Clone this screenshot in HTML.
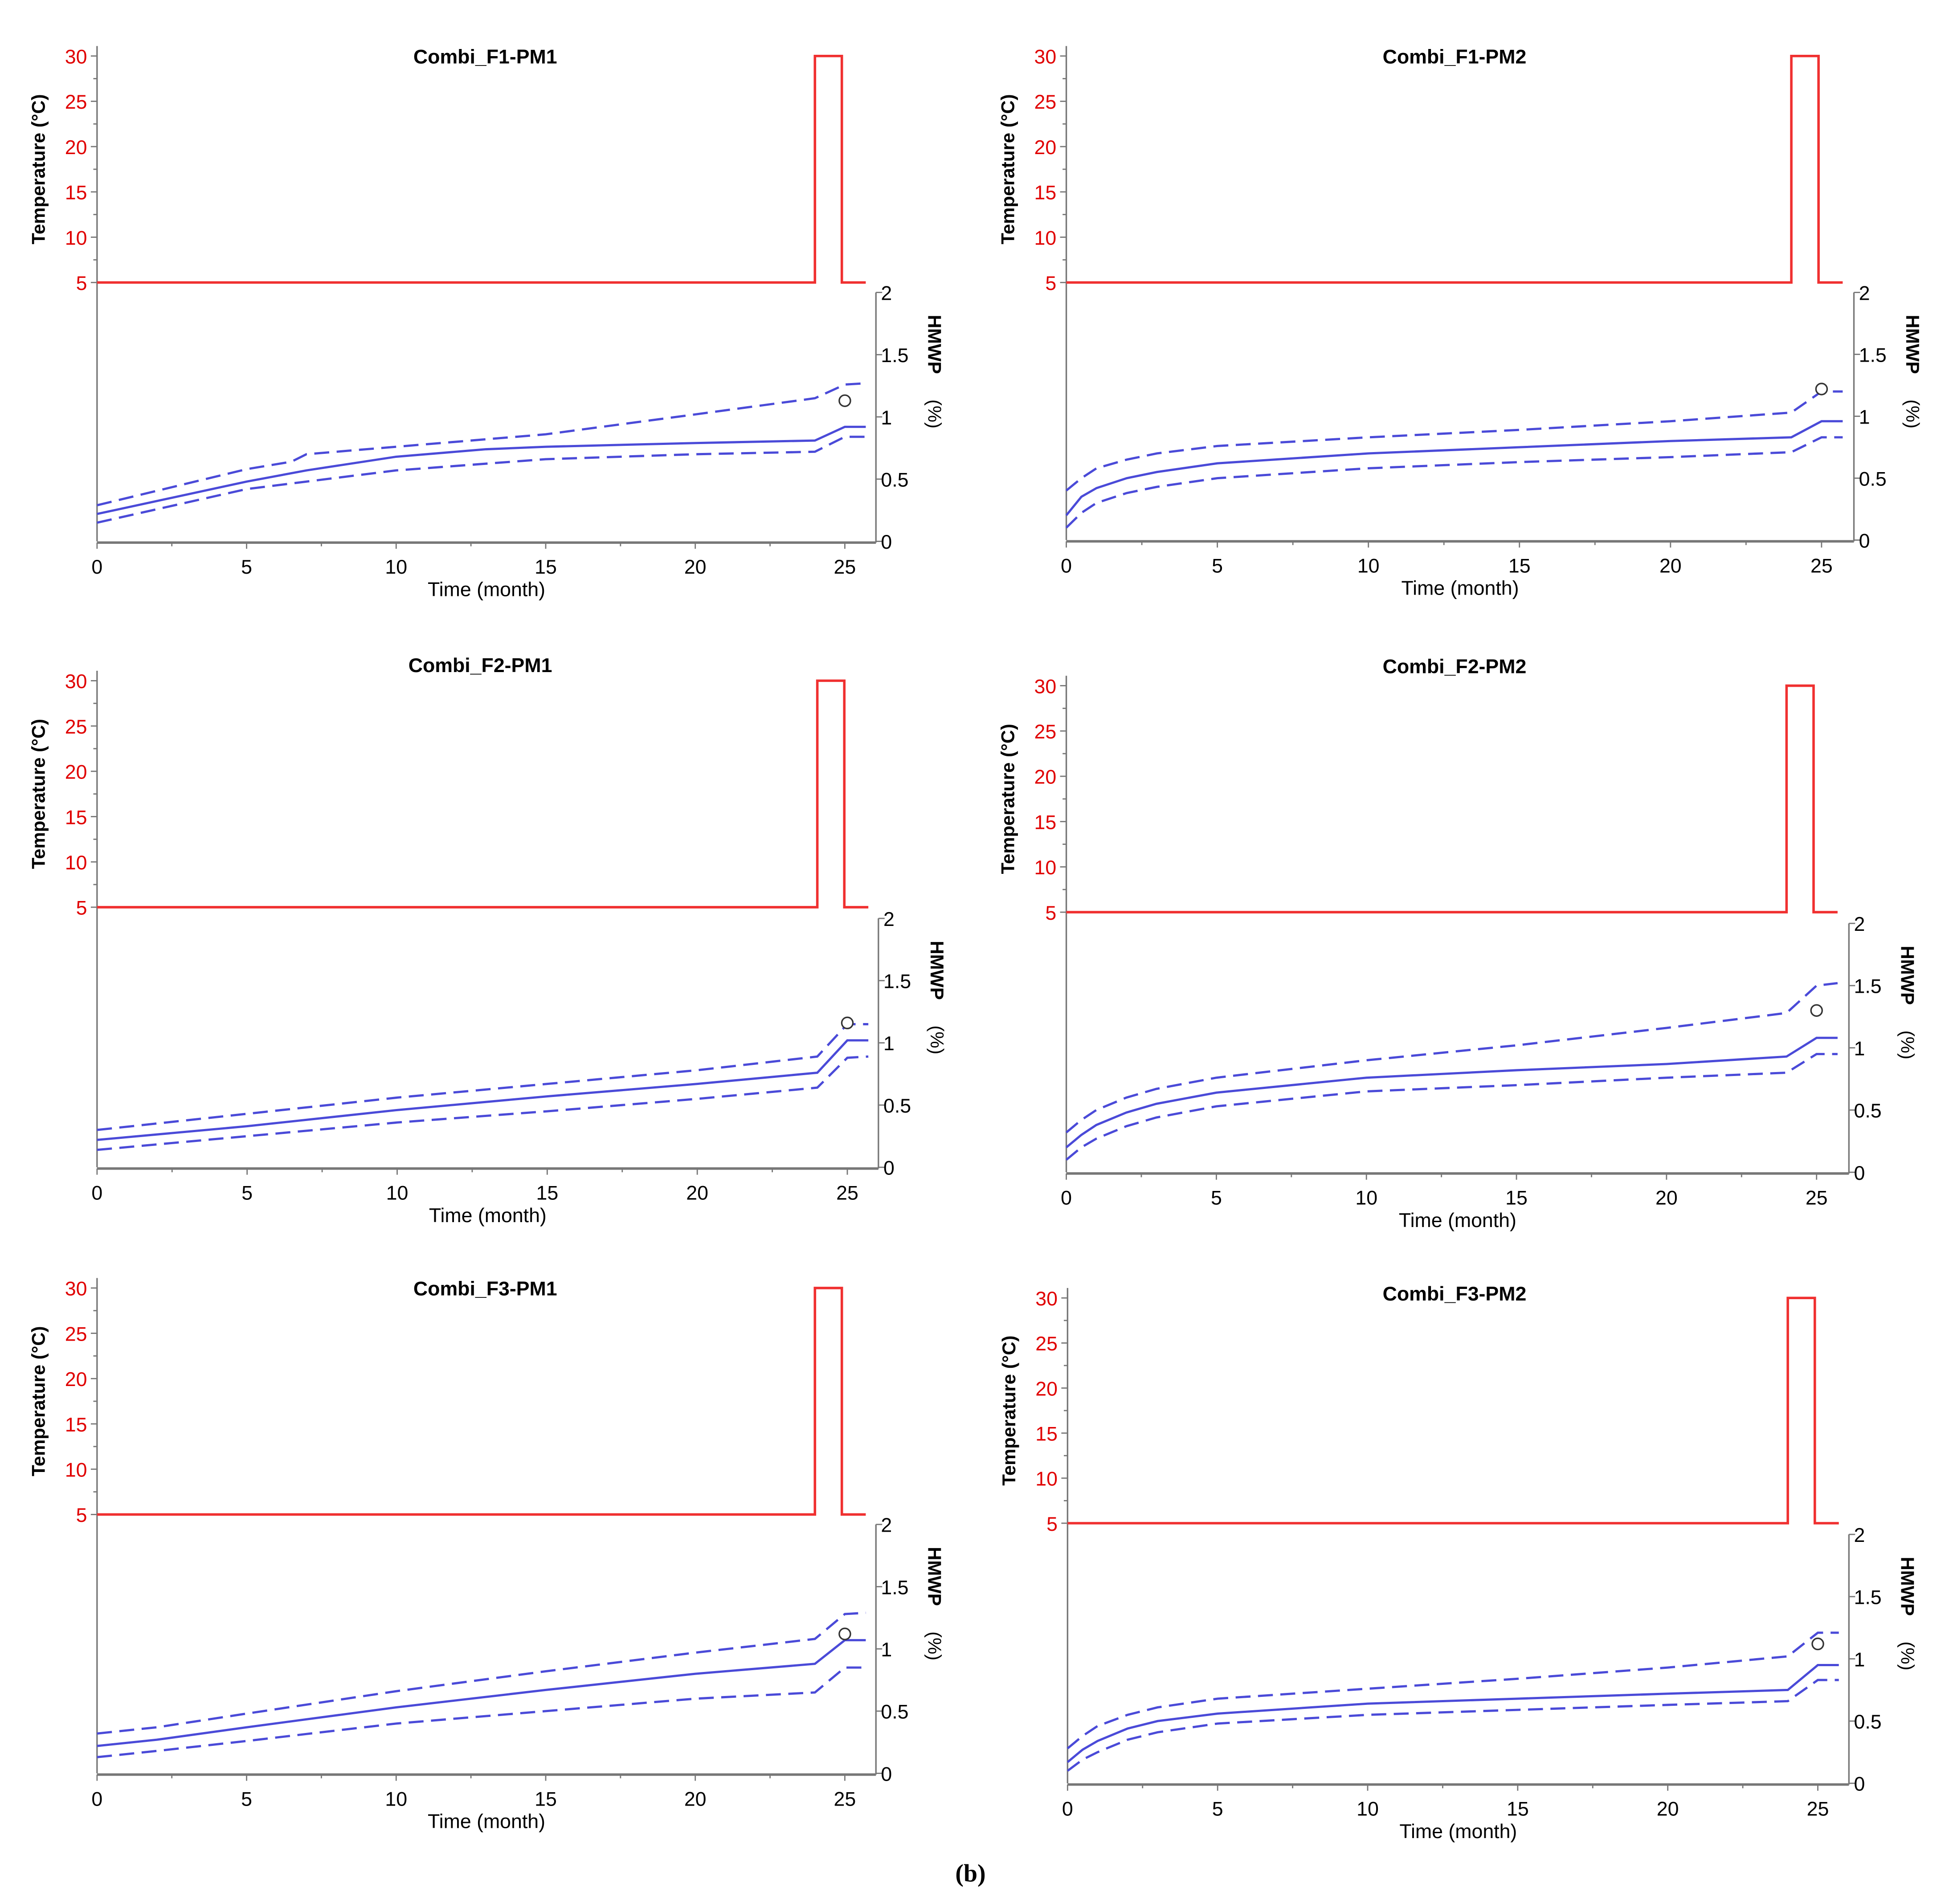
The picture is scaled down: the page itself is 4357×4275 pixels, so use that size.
<!DOCTYPE html>
<html><head><meta charset="utf-8"><style>
html,body{margin:0;padding:0;background:#fff;}
svg{display:block;font-family:"Liberation Sans",sans-serif;}
</style></head><body>
<svg id="fig" width="4357" height="4275" viewBox="0 0 1560 1530" preserveAspectRatio="none" xmlns="http://www.w3.org/2000/svg">
<rect width="1560" height="1530" fill="#fff"/>
<text x="780" y="1512" text-anchor="middle" font-family="Liberation Serif,serif" font-weight="bold" font-size="20">(b)</text>
</svg>
<script>
const titles = ["Combi_F1-PM1","Combi_F1-PM2","Combi_F2-PM1","Combi_F2-PM2","Combi_F3-PM1","Combi_F3-PM2"];
const tempTimes = [0,24,24,24.9,24.9,25.7];
const tempValues = [5,5,30,30,5,5];
const xTicks = [0,5,10,15,20,25];
const tempTicks = [5,10,15,20,25,30];
const hmwpTicks = [0,0.5,1,1.5,2];
const hmwpTickLabels = ["0","0.5","1","1.5","2"];
const obsTime = [25,25,25,25,25,25];
const obsValue = [1.13,1.22,1.16,1.30,1.12,1.12];
const tA = [0,5,7,10,13,15,20,24,25,25.7];
const tL = [0,0.5,1,2,3,5,10,15,20,24,25,25.7];
const tB = [0,5,10,15,20,24,25,25.7];
const tC = [0,2,5,10,15,20,24,25,25.7];
const meanTimes = [tA,tL,tB,tL,tC,tL];
const meanValues = [
 [0.22,0.48,0.57,0.68,0.74,0.76,0.79,0.81,0.92,0.92],
 [0.2,0.35,0.42,0.5,0.55,0.62,0.70,0.75,0.8,0.83,0.96,0.96],
 [0.22,0.33,0.46,0.57,0.67,0.76,1.02,1.02],
 [0.2,0.3,0.38,0.48,0.55,0.64,0.76,0.82,0.87,0.93,1.08,1.08],
 [0.22,0.27,0.37,0.53,0.67,0.8,0.88,1.07,1.07],
 [0.17,0.27,0.34,0.44,0.5,0.56,0.64,0.68,0.72,0.75,0.95,0.95]];
const upperTimes = [[0,5,6.5,7,10,15,20,24,25,25.7],tL,tB,tL,tC,tL];
const upperValues = [
 [0.29,0.58,0.64,0.70,0.76,0.86,1.02,1.15,1.26,1.27],
 [0.4,0.5,0.58,0.65,0.7,0.76,0.83,0.89,0.96,1.03,1.2,1.2],
 [0.3,0.43,0.56,0.67,0.78,0.89,1.15,1.15],
 [0.32,0.42,0.5,0.6,0.67,0.76,0.9,1.02,1.16,1.28,1.5,1.52],
 [0.32,0.37,0.48,0.66,0.82,0.97,1.08,1.28,1.29],
 [0.28,0.38,0.46,0.55,0.61,0.68,0.76,0.84,0.93,1.02,1.21,1.21]];
const lowerTimes = [tB,tL,tB,tL,tC,tL];
const lowerValues = [
 [0.15,0.42,0.57,0.66,0.70,0.72,0.84,0.84],
 [0.1,0.22,0.3,0.38,0.43,0.5,0.58,0.63,0.67,0.71,0.83,0.83],
 [0.14,0.25,0.36,0.45,0.55,0.64,0.88,0.89],
 [0.1,0.2,0.27,0.37,0.44,0.53,0.65,0.7,0.76,0.8,0.95,0.95],
 [0.13,0.18,0.26,0.4,0.5,0.6,0.65,0.85,0.85],
 [0.1,0.19,0.25,0.35,0.41,0.48,0.55,0.59,0.63,0.66,0.83,0.83]];

const layouts = [
 {x0:78,x25:679,t30:45,t5:227,h2:235,h0:435,ax:704,tx:390,ty:45},
 {x0:857,x25:1464,t30:45,t5:227,h2:235,h0:434,ax:1490,tx:1169,ty:45},
 {x0:78,x25:681,t30:547,t5:729,h2:738,h0:938,ax:706,tx:386,ty:534},
 {x0:857,x25:1460,t30:551,t5:733,h2:742,h0:942,ax:1486,tx:1169,ty:535},
 {x0:78,x25:679,t30:1035,t5:1217,h2:1225,h0:1425,ax:704,tx:390,ty:1035},
 {x0:858,x25:1461,t30:1043,t5:1224,h2:1233,h0:1433,ax:1486,tx:1169,ty:1039}];

const svg = document.getElementById('fig');
const NS = 'http://www.w3.org/2000/svg';
function mk(tag, attrs, parent){const e=document.createElementNS(NS,tag);for(const k in attrs)e.setAttribute(k,attrs[k]);(parent||svg).appendChild(e);return e;}

layouts.forEach((L,i)=>{
 const g = mk('g',{});
 
 
 const X = t => L.x0 + t*(L.x25-L.x0)/25;
 const YT = v => L.t5 + (v-5)*(L.t30-L.t5)/25;
 const YH = v => L.h0 + v*(L.h2-L.h0)/2;
 const xEnd = X(25.7);
 // title
 const tt = mk('text',{x:L.tx,y:L.ty+6,'text-anchor':'middle','font-size':16,'font-weight':'bold'},g);
 tt.textContent = titles[i];
 
 
 // left temp axis
 const la = mk('line',{x1:L.x0,y1:L.t30-8,x2:L.x0,y2:L.h0,stroke:'#777','stroke-width':1.2},g);
 
 
 for(let v=5; v<=30; v+=2.5){ mk('line',{x1:L.x0-(v%5===0?5:3),y1:YT(v),x2:L.x0,y2:YT(v),stroke:'#777'},g); }
 tempTicks.forEach(v=>{
  const t = mk('text',{x:L.x0-8,y:YT(v)+6,'text-anchor':'end','font-size':16,fill:'#e00000'},g);
  t.textContent = v;
  
  
 });
 const yl = mk('text',{transform:`translate(${L.x0-42},${(L.t30+L.t5)/2}) rotate(-90)`,'text-anchor':'middle','font-size':15,'font-weight':'bold'},g);
 yl.textContent = 'Temperature (°C)';
 
 
 // x axis
 const xa = mk('line',{x1:L.x0,y1:L.h0+1,x2:L.ax,y2:L.h0+1,stroke:'#777','stroke-width':2},g);
 
 
 for(let t=0;t<=25;t+=2.5){ mk('line',{x1:X(t),y1:L.h0+1,x2:X(t),y2:L.h0+(t%5===0?6:4),stroke:'#777'},g); }
 xTicks.forEach(v=>{
  const t = mk('text',{x:X(v),y:L.h0+26,'text-anchor':'middle','font-size':16},g);
  t.textContent = v;
  
  
 });
 const xl = mk('text',{x:(L.x0+L.ax)/2,y:L.h0+44,'text-anchor':'middle','font-size':16},g);
 xl.textContent = 'Time (month)';
 
 
 // right hmwp axis
 const ra = mk('line',{x1:L.ax,y1:L.h2,x2:L.ax,y2:L.h0+1,stroke:'#777','stroke-width':1.2},g);
 
 
 hmwpTicks.forEach((v,k)=>{
  mk('line',{x1:L.ax,y1:YH(v),x2:L.ax+5,y2:YH(v),stroke:'#777'},g);
  const t = mk('text',{x:L.ax+4,y:YH(v)+6,'font-size':16},g);
  t.textContent = hmwpTickLabels[k];
  
  
 });
 const hl = mk('text',{transform:`translate(${L.ax+42},${L.h2+18}) rotate(90)`,'font-size':15,'font-weight':'bold'},g);
 hl.textContent = 'HMWP';
 
 
 const hl2 = mk('text',{transform:`translate(${L.ax+42},${L.h2+86}) rotate(90)`,'font-size':15},g);
 hl2.textContent = '(%)';
 
 
 // temperature series
 const tp = mk('polyline',{points:tempTimes.map((t,k)=>X(t)+','+YT(tempValues[k])).join(' '),fill:'none',stroke:'#f03030','stroke-width':2},g);
 
 
 // hmwp series
 const series = [[meanTimes[i],meanValues[i],'none','mean-line'],[upperTimes[i],upperValues[i],'12,6','upper-bound-line'],[lowerTimes[i],lowerValues[i],'12,6','lower-bound-line']];
 series.forEach(s=>{
  const p = mk('polyline',{points:s[0].map((t,k)=>X(t)+','+YH(s[1][k])).join(' '),fill:'none',stroke:'#4a4ad8','stroke-width':1.8,'stroke-dasharray':s[2]},g);
  
  
 });
 const c = mk('circle',{cx:X(obsTime[i]),cy:YH(obsValue[i]),r:4.5,fill:'#fff',stroke:'#333','stroke-width':1.2},g);
 
 
});
</script>
</body></html>
